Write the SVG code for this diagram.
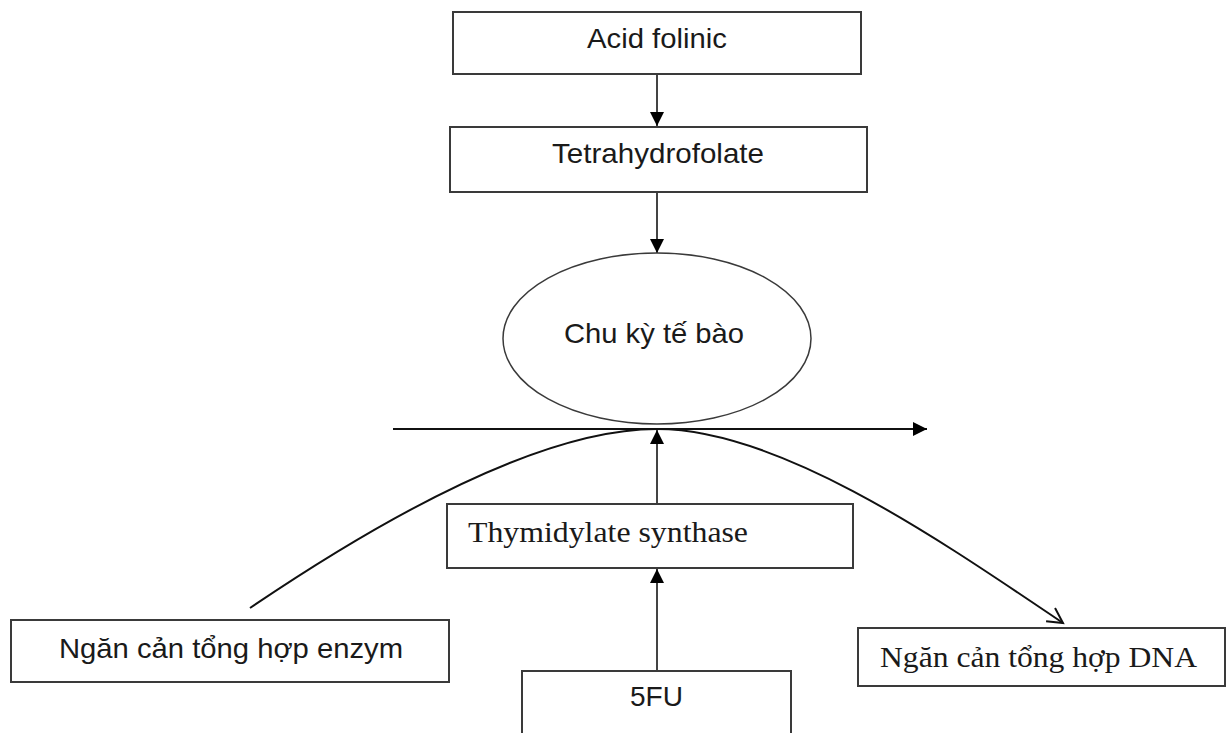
<svg xmlns="http://www.w3.org/2000/svg" width="1232" height="733" viewBox="0 0 1232 733">
<defs>
<style>
.box{fill:#fff;stroke:#3a3a3a;stroke-width:2}
.ell{fill:#fff;stroke:#3a3a3a;stroke-width:1.5}
.sans{font-family:"Liberation Sans",Arial,sans-serif;font-size:28px;fill:#1a1a1a}
.serif{font-family:"Liberation Serif","Times New Roman",serif;font-size:30px;fill:#1a1a1a}
.con{fill:none;stroke:#111;stroke-width:2}
.vcon{fill:none;stroke:#444;stroke-width:2}
</style>
<marker id="fa" markerUnits="userSpaceOnUse" markerWidth="16" markerHeight="16" refX="14" refY="7" orient="auto">
<path d="M0,0 L14,7 L0,14 z" fill="#000"/>
</marker>
<marker id="oa" markerUnits="userSpaceOnUse" markerWidth="20" markerHeight="20" refX="16" refY="9" orient="auto">
<path d="M1,1 L16,9 L1,17" fill="none" stroke="#111" stroke-width="2"/>
</marker>
</defs>
<rect width="1232" height="733" fill="#fff"/>
<g id="connectors">
<line class="vcon" x1="657" y1="74" x2="657" y2="126" marker-end="url(#fa)"/>
<line class="vcon" x1="657" y1="192" x2="657" y2="253" marker-end="url(#fa)"/>
<line class="con" x1="393" y1="429" x2="927" y2="429" marker-end="url(#fa)"/>
<line class="vcon" x1="657" y1="503" x2="657" y2="430" marker-end="url(#fa)"/>
<line class="vcon" x1="657" y1="671" x2="657" y2="569" marker-end="url(#fa)"/>
<path class="con" d="M250,608 C380,520 540,429 657,429 C780,429 940,540 1063,623" marker-end="url(#oa)"/>
</g>
<g id="acid-folinic">
<rect class="box" x="453" y="12" width="408" height="62"/>
<text class="sans" x="587" y="48" textLength="140" lengthAdjust="spacingAndGlyphs">Acid folinic</text>
</g>
<g id="tetrahydrofolate">
<rect class="box" x="450" y="127" width="417" height="65"/>
<text class="sans" x="552" y="163" textLength="212" lengthAdjust="spacingAndGlyphs">Tetrahydrofolate</text>
</g>
<g id="chu-ky-te-bao">
<ellipse class="ell" cx="657" cy="338.5" rx="154" ry="85.5"/>
<text class="sans" x="564" y="343" textLength="180" lengthAdjust="spacingAndGlyphs">Chu kỳ tế bào</text>
</g>
<g id="thymidylate-synthase">
<rect class="box" x="447" y="504" width="406" height="64"/>
<text class="serif" x="468" y="542" textLength="280" lengthAdjust="spacingAndGlyphs">Thymidylate synthase</text>
</g>
<g id="ngan-can-enzym">
<rect class="box" x="11" y="620" width="438" height="62"/>
<text class="sans" x="59" y="658" textLength="344" lengthAdjust="spacingAndGlyphs">Ngăn cản tổng hợp enzym</text>
</g>
<g id="fu5">
<rect class="box" x="522" y="671" width="269" height="80"/>
<text class="sans" x="630" y="706" textLength="53" lengthAdjust="spacingAndGlyphs">5FU</text>
</g>
<g id="ngan-can-dna">
<rect class="box" x="858" y="628" width="367" height="58"/>
<text class="serif" x="880" y="667" textLength="317" lengthAdjust="spacingAndGlyphs">Ngăn cản tổng hợp DNA</text>
</g>
</svg>
